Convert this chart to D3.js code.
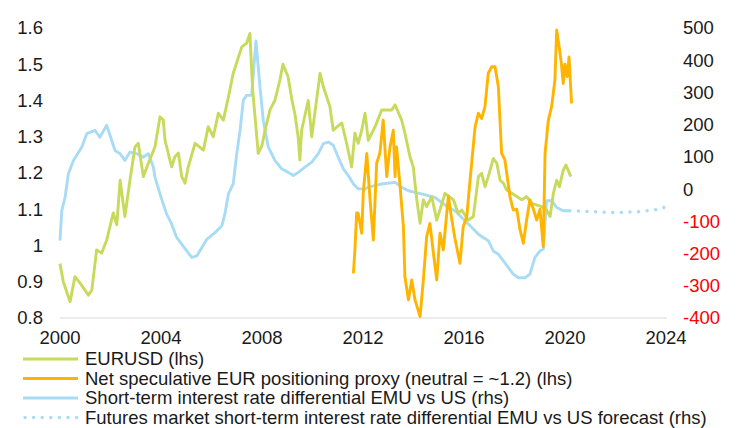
<!DOCTYPE html>
<html>
<head>
<meta charset="utf-8">
<script src="https://cdnjs.cloudflare.com/ajax/libs/d3/7.8.5/d3.min.js"></script>
<style>
  body { margin: 0; background: #fff; }
  text { font-family: "Liberation Sans", Arial, sans-serif; }
</style>
</head>
<body>
<div id="chart"></div>
<script>
// EURUSD (lhs), [decimal year, value]
var eurusd = [
    [2000.00, 0.95], [2000.13, 0.90], [2000.40, 0.845], [2000.59, 0.914], [2000.79, 0.897],
    [2000.99, 0.877], [2001.12, 0.863], [2001.26, 0.877], [2001.45, 0.988], [2001.65, 0.979],
    [2001.85, 1.015], [2002.11, 1.09], [2002.25, 1.057], [2002.38, 1.18], [2002.57, 1.08],
    [2002.77, 1.18], [2002.97, 1.272], [2003.10, 1.282], [2003.30, 1.19], [2003.50, 1.227],
    [2003.76, 1.272], [2003.96, 1.355], [2004.09, 1.346], [2004.16, 1.29], [2004.42, 1.217],
    [2004.55, 1.245], [2004.69, 1.255], [2004.82, 1.19], [2004.95, 1.172], [2005.08, 1.217],
    [2005.35, 1.282], [2005.68, 1.263], [2005.87, 1.328], [2006.07, 1.30], [2006.27, 1.365],
    [2006.47, 1.346], [2006.67, 1.41], [2006.86, 1.475], [2007.20, 1.548], [2007.39, 1.558],
    [2007.52, 1.585], [2007.63, 1.43], [2007.85, 1.254], [2008.00, 1.276], [2008.12, 1.318],
    [2008.32, 1.375], [2008.51, 1.40], [2008.71, 1.457], [2008.83, 1.50], [2009.03, 1.466],
    [2009.19, 1.40], [2009.31, 1.36], [2009.43, 1.30], [2009.50, 1.236], [2009.57, 1.318],
    [2009.83, 1.40], [2009.97, 1.30], [2010.30, 1.475], [2010.43, 1.438], [2010.69, 1.383],
    [2010.82, 1.318], [2011.16, 1.338], [2011.35, 1.282], [2011.55, 1.217], [2011.68, 1.31],
    [2011.81, 1.282], [2011.95, 1.318], [2012.08, 1.365], [2012.21, 1.29], [2012.48, 1.328],
    [2012.74, 1.374], [2013.14, 1.374], [2013.27, 1.388], [2013.53, 1.346], [2013.66, 1.31],
    [2013.86, 1.245], [2013.99, 1.217], [2014.13, 1.126], [2014.26, 1.061], [2014.39, 1.126],
    [2014.52, 1.107], [2014.72, 1.135], [2014.92, 1.07], [2015.25, 1.144], [2015.58, 1.126],
    [2015.77, 1.089], [2015.91, 1.098], [2016.17, 1.07], [2016.37, 1.08], [2016.57, 1.19],
    [2016.70, 1.199], [2016.83, 1.162], [2016.96, 1.19], [2017.16, 1.24], [2017.30, 1.227],
    [2017.43, 1.18], [2017.56, 1.172], [2017.69, 1.153], [2017.89, 1.144], [2018.29, 1.126],
    [2018.48, 1.135], [2018.68, 1.116], [2019.08, 1.107], [2019.27, 1.098], [2019.41, 1.08],
    [2019.54, 1.144], [2019.67, 1.18], [2019.78, 1.162], [2019.93, 1.208], [2020.04, 1.222],
    [2020.23, 1.19]
];

// Net speculative EUR positioning proxy (lhs)
var positioning = [
    [2011.62, 0.923], [2011.68, 0.988], [2011.75, 1.09], [2011.81, 1.089], [2011.95, 1.034],
    [2012.01, 1.144], [2012.15, 1.254], [2012.28, 1.126], [2012.41, 1.015], [2012.54, 1.227],
    [2012.67, 1.255], [2012.80, 1.346], [2012.94, 1.19], [2013.07, 1.272], [2013.20, 1.318],
    [2013.27, 1.19], [2013.33, 1.272], [2013.47, 1.162], [2013.60, 1.052], [2013.66, 0.914],
    [2013.80, 0.85], [2013.93, 0.905], [2014.06, 0.85], [2014.26, 0.804], [2014.39, 0.905],
    [2014.52, 1.024], [2014.65, 1.061], [2014.79, 0.978], [2014.92, 0.905], [2015.05, 1.034],
    [2015.18, 0.988], [2015.38, 1.135], [2015.52, 1.07], [2015.64, 1.02], [2015.84, 0.951],
    [2015.97, 1.052], [2016.11, 1.08], [2016.24, 1.18], [2016.44, 1.328], [2016.57, 1.365],
    [2016.70, 1.35], [2016.83, 1.383], [2016.96, 1.475], [2017.10, 1.493], [2017.23, 1.493],
    [2017.36, 1.438], [2017.49, 1.254], [2017.62, 1.236], [2017.82, 1.135], [2017.95, 1.098],
    [2018.09, 1.10], [2018.22, 1.043], [2018.35, 1.006], [2018.48, 1.07], [2018.61, 1.126],
    [2018.75, 1.10], [2018.88, 1.07], [2019.01, 1.10], [2019.14, 0.997], [2019.21, 1.254],
    [2019.34, 1.346], [2019.47, 1.383], [2019.60, 1.456], [2019.67, 1.594], [2019.77, 1.548],
    [2019.86, 1.50], [2019.93, 1.447], [2020.00, 1.50], [2020.09, 1.466], [2020.16, 1.52],
    [2020.26, 1.392]
];

// Short-term interest rate differential EMU vs US (rhs)
var rateDiff = [
    [2000.00, -160], [2000.07, -67], [2000.20, -26], [2000.33, 47], [2000.53, 89],
    [2000.86, 130], [2001.06, 172], [2001.39, 182], [2001.58, 161], [2001.85, 198],
    [2002.18, 120], [2002.38, 110], [2002.57, 89], [2002.77, 115], [2003.04, 110],
    [2003.30, 99], [2003.50, 110], [2003.70, 68], [2003.76, 37], [2003.96, -15],
    [2004.22, -77], [2004.42, -108], [2004.62, -150], [2004.82, -171], [2005.02, -192],
    [2005.22, -212], [2005.42, -207], [2005.62, -181], [2005.82, -155], [2006.14, -135],
    [2006.41, -114], [2006.53, -77], [2006.67, -15], [2006.86, 16], [2007.00, 110],
    [2007.13, 182], [2007.26, 276], [2007.39, 291], [2007.59, 291], [2007.76, 460],
    [2007.92, 317], [2008.05, 213], [2008.25, 130], [2008.51, 89], [2008.78, 63],
    [2009.04, 52], [2009.24, 42], [2009.44, 52], [2009.70, 68], [2009.97, 84],
    [2010.23, 110], [2010.43, 141], [2010.63, 146], [2010.82, 136], [2011.02, 99],
    [2011.22, 63], [2011.42, 42], [2011.62, 16], [2011.81, 1], [2012.08, 0],
    [2012.21, 6], [2012.48, 11], [2012.74, 16], [2013.27, 21], [2013.53, 6],
    [2013.80, -5], [2014.06, -10], [2014.32, -15], [2014.58, -20], [2014.85, -26],
    [2015.11, -41], [2015.38, -57], [2015.64, -67], [2015.91, -88], [2016.17, -108],
    [2016.37, -124], [2016.57, -140], [2016.76, -150], [2016.96, -160], [2017.16, -192],
    [2017.36, -202], [2017.56, -223], [2017.76, -244], [2017.95, -264], [2018.15, -275],
    [2018.42, -275], [2018.61, -264], [2018.81, -212], [2019.01, -192], [2019.14, -186],
    [2019.27, -36], [2019.47, -36], [2019.67, -57], [2019.93, -67], [2020.19, -67]
];

// Futures market forecast (rhs)
var rateForecast = [
    [2020.19, -67], [2021.0, -70], [2022.0, -73], [2023.0, -70], [2023.6, -64], [2024.0, -55]
];

var xTicks = [2000, 2004, 2008, 2012, 2016, 2020, 2024];
var leftTicks = [0.8, 0.9, 1, 1.1, 1.2, 1.3, 1.4, 1.5, 1.6];
var rightTicks = [-400, -300, -200, -100, 0, 100, 200, 300, 400, 500];

var legendItems = [
    { label: "EURUSD (lhs)", color: "#c8da5c", dotted: false },
    { label: "Net speculative EUR positioning proxy (neutral = ~1.2) (lhs)", color: "#ffb400", dotted: false },
    { label: "Short-term interest rate differential EMU vs US (rhs)", color: "#a8dcf6", dotted: false },
    { label: "Futures market short-term interest rate differential EMU vs US forecast (rhs)", color: "#a8dcf6", dotted: true }
];

function drawChart() {
    var width = 741;
    var height = 428;
    var fontSize = 18.5;

    var svg = d3.select("#chart").append("svg")
        .attr("width", width)
        .attr("height", height);

    var x = d3.scaleLinear().domain([2000, 2024]).range([60, 666]);
    var yLeft = d3.scaleLinear().domain([0.8, 1.6]).range([318, 28]);
    var yRight = d3.scaleLinear().domain([-400, 500]).range([318, 28]);

    // bottom axis line
    svg.append("line")
        .attr("x1", x(2000))
        .attr("x2", x(2024) + 1)
        .attr("y1", yLeft(0.8))
        .attr("y2", yLeft(0.8))
        .attr("stroke", "#d9d9d9")
        .attr("stroke-width", 1);

    svg.selectAll(".xlab").data(xTicks).enter().append("text")
        .attr("x", function(d) { return x(d); })
        .attr("y", 344)
        .attr("text-anchor", "middle")
        .attr("font-size", fontSize)
        .attr("fill", "#1a1a1a")
        .text(function(d) { return d; });

    svg.selectAll(".ylab").data(leftTicks).enter().append("text")
        .attr("x", 43)
        .attr("y", function(d) { return yLeft(d); })
        .attr("dy", "0.35em")
        .attr("text-anchor", "end")
        .attr("font-size", fontSize)
        .attr("fill", "#1a1a1a")
        .text(function(d) { return d3.format("")(d); });

    svg.selectAll(".rlab").data(rightTicks).enter().append("text")
        .attr("x", 683)
        .attr("y", function(d) { return yRight(d); })
        .attr("dy", "0.35em")
        .attr("text-anchor", "start")
        .attr("font-size", fontSize)
        .attr("fill", function(d) { return d < 0 ? "#ff0000" : "#1a1a1a"; })
        .text(function(d) { return d; });

    var lineLeft = d3.line()
        .x(function(d) { return x(d[0]); })
        .y(function(d) { return yLeft(d[1]); });

    var lineRight = d3.line()
        .x(function(d) { return x(d[0]); })
        .y(function(d) { return yRight(d[1]); });

    svg.append("path")
        .datum(rateDiff)
        .attr("d", lineRight)
        .attr("fill", "none")
        .attr("stroke", legendItems[2].color)
        .attr("stroke-width", 2.9)
        .attr("stroke-linejoin", "round");

    svg.append("path")
        .datum(rateForecast)
        .attr("d", lineRight)
        .attr("fill", "none")
        .attr("stroke", legendItems[3].color)
        .attr("stroke-width", 3.5)
        .attr("stroke-linecap", "round")
        .attr("stroke-dasharray", "0,8.6");

    svg.append("path")
        .datum(eurusd)
        .attr("d", lineLeft)
        .attr("fill", "none")
        .attr("stroke", legendItems[0].color)
        .attr("stroke-width", 2.9)
        .attr("stroke-linejoin", "round");

    svg.append("path")
        .datum(positioning)
        .attr("d", lineLeft)
        .attr("fill", "none")
        .attr("stroke", legendItems[1].color)
        .attr("stroke-width", 2.9)
        .attr("stroke-linejoin", "round");

    // legend
    var legend = svg.append("g");
    var rows = legend.selectAll("g").data(legendItems).enter().append("g")
        .attr("transform", function(d, i) { return "translate(0," + (359 + i * 19.5) + ")"; });

    rows.append("line")
        .attr("x1", function(d) { return d.dotted ? 25 : 23; })
        .attr("x2", 78)
        .attr("stroke", function(d) { return d.color; })
        .attr("stroke-width", function(d) { return d.dotted ? 3.5 : 2.8; })
        .attr("stroke-linecap", function(d) { return d.dotted ? "round" : "butt"; })
        .attr("stroke-dasharray", function(d) { return d.dotted ? "0,8.6" : null; });

    rows.append("text")
        .attr("x", 85)
        .attr("dy", "0.35em")
        .attr("font-size", fontSize)
        .attr("fill", "#1a1a1a")
        .text(function(d) { return d.label; });
}

drawChart();
</script>
</body>
</html>
